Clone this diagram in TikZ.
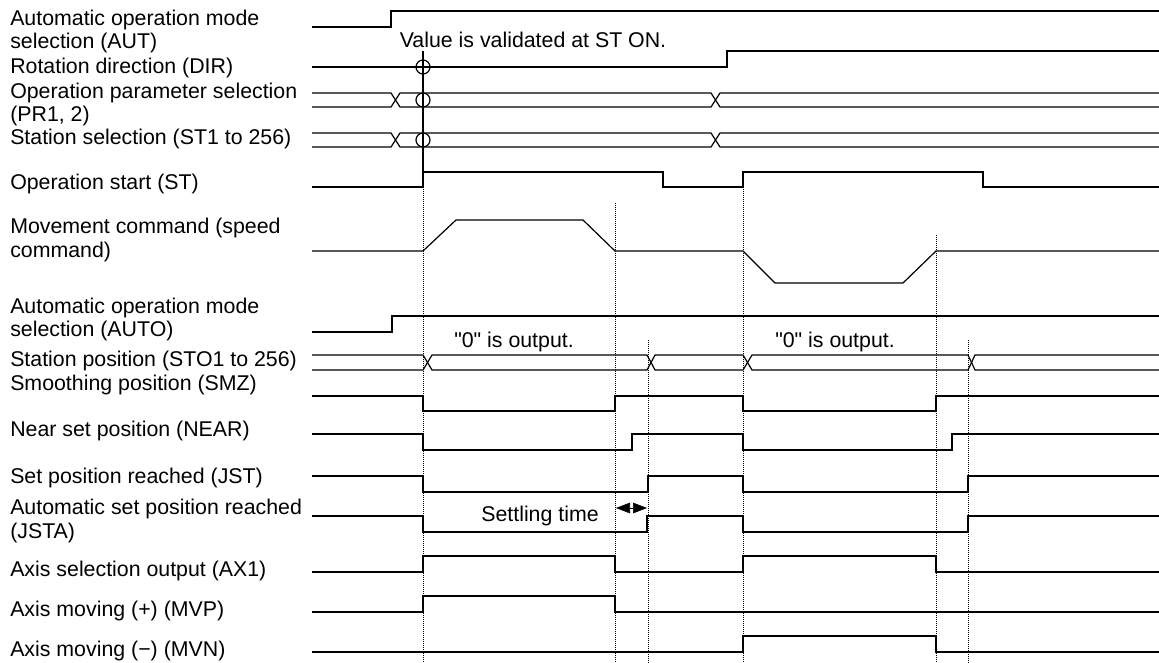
\documentclass[tikz,border=0pt]{standalone}
\usepackage{fontspec}
\setmainfont{Liberation Sans}
\usetikzlibrary{arrows.meta}
\begin{document}
    \begin{tikzpicture}[x=0.75pt,y=-0.75pt,
        sig/.style={line width=0.9pt},
        guide/.style={dash pattern=on 0.75pt off 0.75pt,line width=0.6pt},
        lbl/.style={anchor=west,align=left,inner sep=0pt,font=\fontsize{16}{17.3}\selectfont},
        note/.style={inner sep=0pt,font=\fontsize{16}{17.3}\selectfont},
        ring/.style={draw,circle,line width=0.9pt,minimum size=10.5pt,inner sep=0pt}]
        \useasboundingbox (0,0) rectangle (1159,663);
        \node[lbl] (aut) at (10,31.5) {Automatic operation mode\\selection (AUT)};
        \node[lbl] (dir) at (10,68) {Rotation direction (DIR)};
        \node[lbl] (pr) at (10,104.5) {Operation parameter selection\\(PR1, 2)};
        \node[lbl] (sel) at (10,139) {Station selection (ST1 to 256)};
        \node[lbl] (st) at (10,184) {Operation start (ST)};
        \node[lbl] (mov) at (10,240) {Movement command (speed\\command)};
        \node[lbl] (auto) at (10,319.5) {Automatic operation mode\\selection (AUTO)};
        \node[lbl] (sto) at (10,361) {Station position (STO1 to 256)};
        \node[lbl] (smz) at (10,385) {Smoothing position (SMZ)};
        \node[lbl] (near) at (10,431) {Near set position (NEAR)};
        \node[lbl] (jst) at (10,478) {Set position reached (JST)};
        \node[lbl] (jsta) at (10,521) {Automatic set position reached\\(JSTA)};
        \node[lbl] (ax) at (10,571) {Axis selection output (AX1)};
        \node[lbl] (mvp) at (10,611) {Axis moving (+) (MVP)};
        \node[lbl] (mvn) at (10,651) {Axis moving (−) (MVN)};
        \node[note] (valid) at (533,40) {Value is validated at ST ON.};
        \node[note] (zero1) at (514,342) {\textquotedbl 0\textquotedbl{} is output.};
        \node[note] (zero2) at (835,342) {\textquotedbl 0\textquotedbl{} is output.};
        \node[note] (settle) at (540,516) {Settling time};
        \draw[sig] (312,27) -- (391,27) -- (391,11) -- (1159,11);
        \draw[sig] (312,67) -- (727,67) -- (727,51) -- (1159,51);
        \draw[sig] (312,93) -- (391,93) -- (400,107) -- (711,107) -- (720,93) -- (1159,93);
        \draw[sig] (312,107) -- (391,107) -- (400,93) -- (711,93) -- (720,107) -- (1159,107);
        \draw[sig] (312,133) -- (391,133) -- (400,147) -- (711,147) -- (720,133) -- (1159,133);
        \draw[sig] (312,147) -- (391,147) -- (400,133) -- (711,133) -- (720,147) -- (1159,147);
        \node[ring] (o1) at (423,67) {};
        \node[ring] (o2) at (423,100) {};
        \node[ring] (o3) at (423,140) {};
        \draw[sig] (423,51) -- (423,172);
        \draw[sig] (312,187) -- (423,187) -- (423,172) -- (663,172) -- (663,187) -- (743,187) -- (743,172) -- (983,172) -- (983,187) -- (1159,187);
        \draw[sig] (312,251) -- (423,251) -- (456,220) -- (583,220) -- (615,251) -- (743,251) -- (775,283) -- (903,283) -- (936,251) -- (1159,251);
        \draw[sig] (312,332) -- (392,332) -- (392,316) -- (1159,316);
        \draw[sig] (312,355) -- (423,355) -- (432,370) -- (647,370) -- (655,355) -- (743,355) -- (752,370) -- (968,370) -- (975,355) -- (1159,355);
        \draw[sig] (312,370) -- (423,370) -- (432,355) -- (647,355) -- (655,370) -- (743,370) -- (752,355) -- (968,355) -- (975,370) -- (1159,370);
        \draw[sig] (312,396) -- (423,396) -- (423,411) -- (615,411) -- (615,396) -- (743,396) -- (743,411) -- (936,411) -- (936,396) -- (1159,396);
        \draw[sig] (312,434) -- (423,434) -- (423,450) -- (632,450) -- (632,434) -- (743,434) -- (743,450) -- (952,450) -- (952,434) -- (1159,434);
        \draw[sig] (312,476) -- (423,476) -- (423,492) -- (648,492) -- (648,476) -- (743,476) -- (743,492) -- (968,492) -- (968,476) -- (1159,476);
        \draw[sig] (312,516) -- (423,516) -- (423,532) -- (647,532) -- (647,516) -- (743,516) -- (743,532) -- (968,532) -- (968,516) -- (1159,516);
        \draw[sig] (312,572) -- (423,572) -- (423,556) -- (615,556) -- (615,572) -- (743,572) -- (743,556) -- (936,556) -- (936,572) -- (1159,572);
        \draw[sig] (312,612) -- (423,612) -- (423,596) -- (615,596) -- (615,612) -- (1159,612);
        \draw[sig] (312,652) -- (743,652) -- (743,636) -- (936,636) -- (936,652) -- (1159,652);
        \draw[guide] (423,187) -- (423,663);
        \draw[guide] (615,203) -- (615,663);
        \draw[guide] (648,340) -- (648,663);
        \draw[guide] (743,187) -- (743,663);
        \draw[guide] (936,235) -- (936,663);
        \draw[guide] (968,340) -- (968,663);
        \coordinate (s1) at (616,508);
        \coordinate (s2) at (647,508);
        \draw[{Triangle[length=10.5pt,width=8pt]}-{Triangle[length=10.5pt,width=8pt]}] (s1) -- (s2);
    \end{tikzpicture}
\end{document}
